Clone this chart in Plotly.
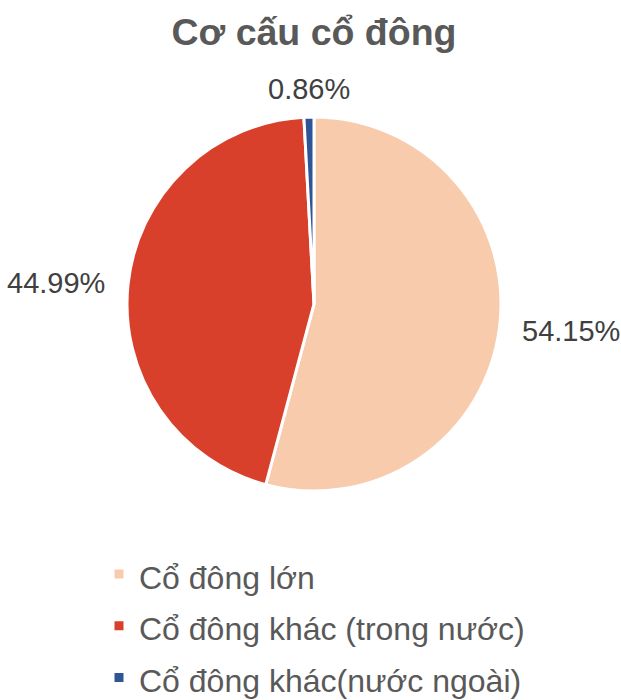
import math
import plotly.graph_objects as go

labels = ["Cổ đông lớn", "Cổ đông khác (trong nước)", "Cổ đông khác(nước ngoài)"]
values = [54.15, 44.99, 0.86]
colors = ["#F8CBAD", "#D9402B", "#2F5597"]

W, H = 621, 700
# pie geometry (pixels)
CX, CY, R = 314, 304, 187

legend_labels = ['<span style="font-size:32px">%s</span>' % s for s in labels]

fig = go.Figure(go.Pie(
    labels=legend_labels,
    values=values,
    sort=False,
    direction="clockwise",
    rotation=0,
    marker=dict(colors=colors, line=dict(color="white", width=3)),
    textinfo="none",
    hoverinfo="label+percent",
    domain=dict(x=[(CX - R) / W, (CX + R) / W], y=[1 - (CY + R) / H, 1 - (CY - R) / H]),
    showlegend=True,
))

# percentage labels placed just outside each slice at its mid angle
total = sum(values)
cum = 0.0
for v in values:
    theta = 2 * math.pi * (cum + v / 2) / total
    cum += v
    s, c = math.sin(theta), math.cos(theta)
    if abs(s) > 0.5:
        rr = R + 21
        xa, ya = ("left" if s > 0 else "right"), "middle"
    else:
        rr = R + 10
        xa, ya = "center", ("bottom" if c > 0 else "top")
    px = CX + rr * s
    py = CY - rr * c
    fig.add_annotation(
        x=px / W, y=1 - py / H, xref="paper", yref="paper",
        text="%.2f%%" % (100 * v / total), showarrow=False,
        xanchor=xa, yanchor=ya,
        font=dict(family="Liberation Sans, Arial, sans-serif", size=29, color="#404040"),
    )

fig.update_layout(
    width=W, height=H,
    margin=dict(l=0, r=0, t=0, b=0, autoexpand=False),
    paper_bgcolor="white",
    font=dict(family="Liberation Sans, Arial, sans-serif", color="#595959"),
    title=dict(text="<b>Cơ cấu cổ đông</b>", x=314 / W, xanchor="center", y=1 - 32 / H, yanchor="middle",
               font=dict(size=37.5, color="#595959")),
    legend=dict(orientation="v", x=99 / W, xanchor="left", y=1 - 543 / H, yanchor="top",
                font=dict(size=37.5, color="#595959"), itemclick=False),
)

fig.write_html("out.html", config={"displayModeBar": False},
               post_script="document.body.style.margin='0px';")
